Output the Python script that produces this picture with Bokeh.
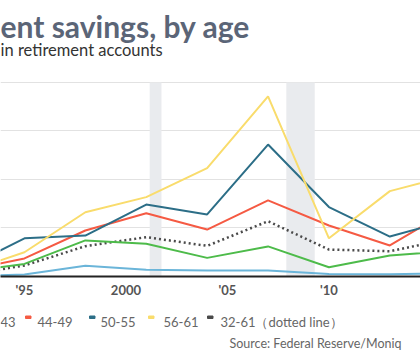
from bokeh.plotting import figure
from bokeh.models import Range1d, FixedTicker, BoxAnnotation
from bokeh.layouts import column
from bokeh.core.properties import value
from bokeh.embed import file_html
from bokeh.resources import INLINE

# ---- data (median retirement-account savings) ----
years = [1992, 1995, 1998, 2001, 2004, 2007, 2010, 2013, 2016]
age_32_37 = [0.0, 1.0, 5.5, 3.5, 3.1, 3.1, 1.3, 1.2, 1.6]
age_38_43 = [2.2, 6.5, 18.6, 16.9, 9.6, 15.5, 4.8, 10.8, 13.1]
age_44_49 = [2.9, 9.3, 23.7, 32.6, 24.2, 39.2, 26.3, 16.0, 34.6]
age_50_55 = [4.0, 19.7, 21.1, 37.1, 32.0, 68.0, 35.8, 20.6, 29.2]
age_56_61 = [1.9, 12.5, 33.1, 40.9, 55.9, 92.8, 19.7, 44.0, 52.2]
age_32_61 = [0.5, 5.7, 15.6, 20.3, 15.8, 28.5, 13.9, 13.0, 19.6]
recession_start = [2001.17, 2007.9]
recession_end = [2001.75, 2009.3]
tick_years = [1995, 2000, 2005, 2010]
tick_labels = ["'95", "2000", "'05", "'10"]
grid_values = [25, 50, 75, 100]

title = "ent savings, by age"
subtitle = "in retirement accounts"
legend_labels = ["43", "44-49", "50-55", "56-61", "32-61（dotted line）"]
source = "Source: Federal Reserve/Moniq"

C_LBLUE = "#6bb5d9"
C_GREEN = "#4dbb4a"
C_RED = "#f55a43"
C_TEAL = "#2c6e87"
C_YELLOW = "#f9dc6c"
C_DARK = "#4a4a4a"
FONT = "Lato"
W = 420


def blank(height):
    f = figure(width=W, height=height, output_backend="svg", toolbar_location=None,
               x_range=Range1d(0, W), y_range=Range1d(height, 0),
               x_axis_location=None, y_axis_location=None,
               min_border_left=0, min_border_right=0, min_border_top=0, min_border_bottom=0)
    f.outline_line_color = None
    f.xgrid.visible = False
    f.ygrid.visible = False
    return f


# ---- header ----
head = blank(62)
head.text(x=[0], y=[25], text=[title], text_font=value(FONT), text_font_style="bold",
          text_font_size="30px", text_color="#5b6577", text_baseline="alphabetic")
head.text(x=[0], y=[49.5], text=[subtitle], text_font=value(FONT),
          text_font_size="16.5px", text_color="#333333", text_baseline="alphabetic")

# ---- main chart ----
p = figure(width=W, height=243, output_backend="svg", toolbar_location=None,
           x_range=Range1d(1993.82, 2014.51), y_range=Range1d(0, 110.3),
           y_axis_location=None,
           min_border_left=0, min_border_right=0, min_border_top=0, min_border_bottom=29)
p.outline_line_color = None
p.xgrid.grid_line_color = None
p.ygrid.ticker = FixedTicker(ticks=grid_values)
p.ygrid.grid_line_color = "#e2e2e2"
p.ygrid.grid_line_width = 1

ax = p.xaxis[0]
ax.ticker = FixedTicker(ticks=tick_years)
ax.major_label_overrides = {y: l for y, l in zip(tick_years, tick_labels)}
ax.axis_line_color = "#222222"
ax.axis_line_width = 2
ax.major_tick_line_color = None
ax.minor_tick_line_color = None
ax.major_tick_out = 0
ax.major_tick_in = 0
ax.major_label_standoff = 5
ax.major_label_text_font = FONT
ax.major_label_text_font_style = "bold"
ax.major_label_text_font_size = "13px"
ax.major_label_text_color = "#555555"

for a, b in zip(recession_start, recession_end):
    p.add_layout(BoxAnnotation(left=a, right=b, bottom=0, top=100, fill_color="#e9ebee",
                               fill_alpha=1, line_color=None, level="underlay"))

p.line(years, age_32_61, color=C_DARK, line_width=2.5, line_dash="2 3")
p.line(years, age_32_37, color=C_LBLUE, line_width=2)
p.line(years, age_38_43, color=C_GREEN, line_width=2)
p.line(years, age_44_49, color=C_RED, line_width=2)
p.line(years, age_50_55, color=C_TEAL, line_width=2)
p.line(years, age_56_61, color=C_YELLOW, line_width=2)

# ---- footer: legend + source ----
foot = blank(45)
sw_left = [25, 89, 148, 207]
sw_right = [v + 5.5 for v in sw_left]
sw_color = [C_RED, C_TEAL, C_YELLOW, C_DARK]
foot.quad(left=sw_left, right=sw_right, top=10.5, bottom=13, color=sw_color)
foot.text(x=[0, 37, 100, 163, 220], y=[16.5] * 5, text=legend_labels, text_font=value(FONT),
          text_font_size="13px", text_color="#666666", text_baseline="alphabetic")
foot.text(x=[229], y=[37.5], text=[source], text_font=value(FONT),
          text_font_size="12.5px", text_color="#666666", text_baseline="alphabetic")

layout = column(head, p, foot, spacing=0)
open("out.html", "w").write(file_html(layout, INLINE))
